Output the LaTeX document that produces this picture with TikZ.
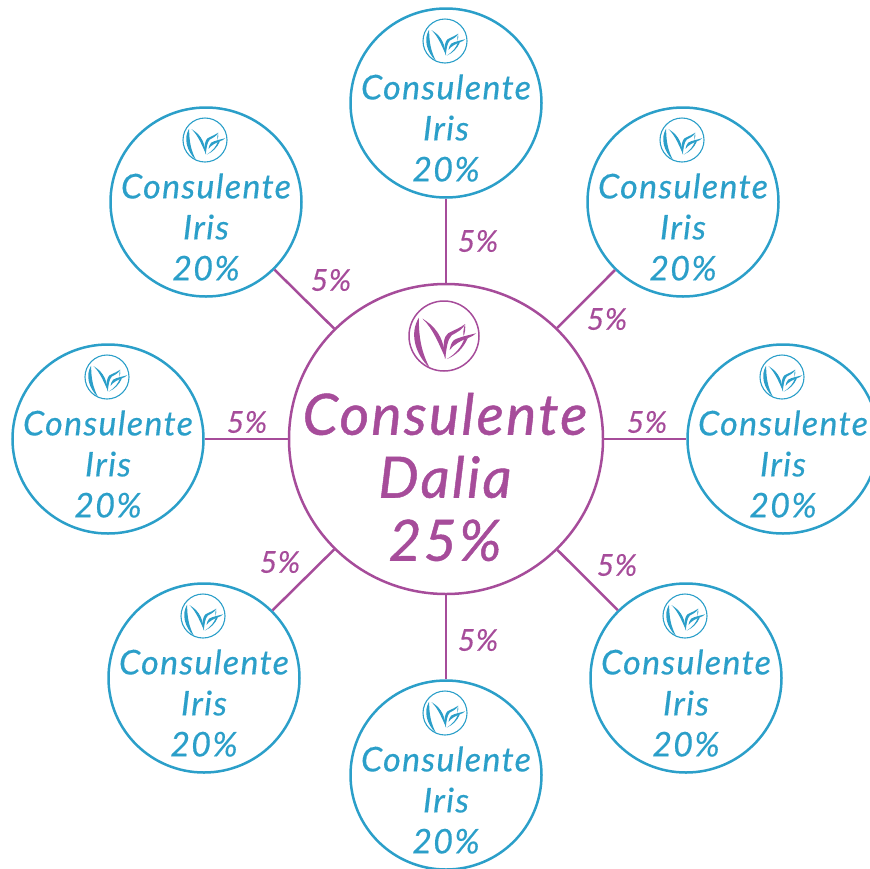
\documentclass[tikz,border=0pt]{standalone}
\usepackage{fontspec}
\usetikzlibrary{shapes.geometric}
\setmainfont{Lato}[ItalicFont={Lato Italic}]
\definecolor{irisblue}{HTML}{2B9FC9}
\definecolor{daliapurple}{HTML}{A64C9A}
\tikzset{
  irisnode/.style={draw=irisblue, ellipse, line width=2.5pt, minimum width=191pt, minimum height=189pt, inner sep=0pt},
  dalianode/.style={draw=daliapurple, ellipse, line width=2.5pt, minimum width=314pt, minimum height=310pt, inner sep=0pt},
  iristext/.style={text=irisblue, align=center, font=\fontsize{34}{41}\selectfont\itshape\addfontfeature{LetterSpace=4, FakeBold=0.4}},
  daliatext/.style={text=daliapurple, align=center, font=\fontsize{57}{63}\selectfont\itshape\addfontfeature{LetterSpace=4, FakeBold=0.8}},
  sharetext/.style={text=daliapurple, font=\fontsize{30}{34}\selectfont\itshape\addfontfeature{LetterSpace=2, FakeBold=0.4}},
  spoke/.style={draw=daliapurple, line width=2.5pt},
  leafmark/.pic={
    \draw[line width=\pgfkeysvalueof{/tikz/markwidth}] (0,0) circle (1);
    % left crescent
    \fill (-.72,-.52) .. controls (-.98,-.1) and (-.85,.5) .. (-.4,.92)
       .. controls (-.66,.45) and (-.72,.0) .. (-.72,-.52) -- cycle;
    % middle leaf edge
    \fill (-.62,-.5) .. controls (-.3,-.3) and (-.02,-.05) .. (.05,.65)
       .. controls (-.14,.25) and (-.3,-.2) .. (-.62,-.5) -- cycle;
    % right leaves
    \fill (.03,.66) .. controls (-.05,.2) and (0,.02) .. (.12,-.08)
       .. controls (.3,-.18) and (.45,-.22) .. (.6,-.34)
       .. controls (.55,-.2) and (.4,-.12) .. (.22,-.02)
       .. controls (.1,.1) and (.08,.3) .. (.03,.66) -- cycle;
    \fill (.92,-.08) .. controls (.7,-.02) and (.45,.02) .. (.28,.12)
       .. controls (.2,.2) and (.18,.3) .. (.16,.4)
       .. controls (.28,.24) and (.5,.12) .. (.68,.06)
       .. controls (.78,.02) and (.86,-.02) .. (.92,-.08) -- cycle;
    \fill (.6,-.34) .. controls (.56,-.2) and (.54,-.1) .. (.56,.0)
       .. controls (.6,-.1) and (.62,-.22) .. (.6,-.34) -- cycle;
    \fill (.68,.06) .. controls (.55,.35) and (.35,.55) .. (.08,.66)
       .. controls (.35,.5) and (.5,.3) .. (.58,.08) -- cycle;
  },
  markwidth/.initial=1.5pt
}
\begin{document}
\begin{tikzpicture}[x=1pt, y=-1pt]
  \useasboundingbox (0,0) rectangle (870,868);
  \clip (0,0) rectangle (870,868);

  % 1) Centre circle
  \node[dalianode] (dalia) at (446,439) {};
  \node[daliatext] (daliatxt) at (445,477) {Consulente\\Dalia\\25\%};
  \pic[daliapurple, scale=35] at (444,336) {leafmark};

  % 2) Outer circles with their spokes
  \foreach \name/\x/\y in {top/446/103, upright/683/202, right/783/439, downright/686/678,
                           down/446/775, downleft/204/678, left/108/439, upleft/206/202} {
    \node[irisnode] (\name) at (\x,\y) {};
    \node[iristext] (\name txt) at (\x,\y+25) {Consulente\\Iris\\20\%};
    \pic[irisblue, scale=22, markwidth=1.1pt] at (\x-1,\y-62) {leafmark};
    \draw[spoke] (dalia) -- (\name);
  }

  % 3) Share labels
  \foreach \name/\x/\y in {sone/478/241, stwo/607/319, sthree/647/422, sfour/617/565,
                           sfive/478/640, ssix/280/562, sseven/247/422, seight/331/280} {
    \node[sharetext] (\name) at (\x,\y) {5\%};
  }
\end{tikzpicture}
\end{document}
